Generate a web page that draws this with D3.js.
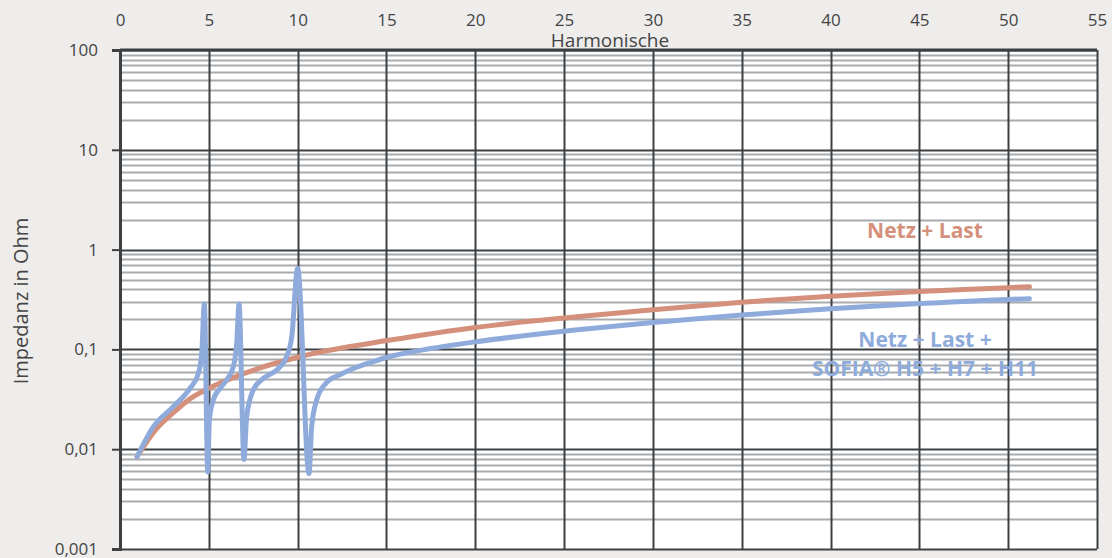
<!DOCTYPE html>
<html>
<head>
<meta charset="utf-8">
<script src="https://cdn.jsdelivr.net/npm/d3@7"></script>
<style>
  html, body { margin: 0; padding: 0; background: #eeedeb; }
  svg { display: block; font-family: "Open Sans", sans-serif; }
</style>
</head>
<body>
<svg id="chart"></svg>
<script>
// x ticks (harmonic order)
const xTicks = [0, 5, 10, 15, 20, 25, 30, 35, 40, 45, 50, 55];
// y ticks (impedance, decades) and their German labels
const yTicks = [0.001, 0.01, 0.1, 1, 10, 100];
const yTickLabels = ['0,001', '0,01', '0,1', '1', '10', '100'];

// Netz + Last
const netzH = [0.96, 2, 3, 4, 5, 7, 10, 11.2, 15.2, 20, 25.9, 30, 35, 40, 45, 50, 51.2];
const netzZ = [0.0084, 0.0156, 0.0232, 0.0325, 0.0407, 0.0575, 0.0834, 0.0935, 0.124, 0.166, 0.214, 0.250, 0.297, 0.341, 0.380, 0.415, 0.425];

// Netz + Last + SOFIA H5 + H7 + H11
const sofiaH = [0.96, 1.88, 3.0, 3.94, 4.41, 4.6, 4.75, 4.94, 5.03, 5.25, 5.63, 6.0, 6.38, 6.57, 6.7, 6.98,
  7.13, 7.5, 8.07, 8.82, 9.38, 9.67, 10.0, 10.64, 10.79, 11.07, 11.6, 12.4, 13.1, 14, 15, 17.5, 20, 25.9, 30, 35, 40, 45, 50, 51.2];
const sofiaZ = [0.0084, 0.0168, 0.0267, 0.0407, 0.0575, 0.0914, 0.285, 0.0059, 0.0196, 0.0311, 0.0407, 0.0493, 0.0671, 0.115, 0.285, 0.0079,
  0.0212, 0.0392, 0.0513, 0.0622, 0.0845, 0.134, 0.65, 0.0057, 0.0168, 0.0311, 0.046, 0.056, 0.064, 0.073, 0.083, 0.102, 0.119, 0.158, 0.186, 0.221, 0.256, 0.288, 0.317, 0.322];

const labels = ['Netz + Last', 'Netz + Last +', 'SOFIA® H5 + H7 + H11'];

const width = 1112, height = 558;
const m = { top: 50, right: 15, bottom: 9, left: 120 };

const svg = d3.select('#chart').attr('width', width).attr('height', height);

const x = d3.scaleLinear().domain([0, 55]).range([m.left, width - m.right]);
const y = d3.scaleLog().domain([0.001, 100]).range([height - m.bottom, m.top]);

svg.append('rect')
  .attr('x', x(0)).attr('y', y(100))
  .attr('width', x(55) - x(0)).attr('height', y(0.001) - y(100))
  .attr('fill', '#fff');

// minor horizontal grid
const minor = [];
yTicks.slice(0, -1).forEach(d => { for (let k = 2; k <= 9; k++) minor.push(d * k); });
svg.append('g').selectAll('line').data(minor).enter().append('line')
  .attr('x1', x(0)).attr('x2', x(55))
  .attr('y1', d => Math.round(y(d)) + 0.5).attr('y2', d => Math.round(y(d)) + 0.5)
  .attr('stroke', '#a7abae').attr('stroke-width', 2);

// major grid
svg.append('g').selectAll('line').data(yTicks).enter().append('line')
  .attr('x1', x(0)).attr('x2', x(55))
  .attr('y1', d => Math.round(y(d)) + 0.5).attr('y2', d => Math.round(y(d)) + 0.5)
  .attr('stroke', '#3d4042').attr('stroke-width', 2);
svg.append('g').selectAll('line').data(xTicks).enter().append('line')
  .attr('x1', d => Math.round(x(d)) + 0.5).attr('x2', d => Math.round(x(d)) + 0.5)
  .attr('y1', y(100)).attr('y2', y(0.001))
  .attr('stroke', '#3d4042').attr('stroke-width', 2);

// axes
const xAxis = svg.append('g')
  .attr('transform', `translate(0,26)`)
  .call(d3.axisTop(x).tickValues(xTicks).tickSize(0).tickPadding(0));
xAxis.select('.domain').remove();
xAxis.selectAll('text').attr('font-size', 17).attr('fill', '#444').attr('font-family', '"Open Sans", sans-serif');

const yAxis = svg.append('g')
  .attr('transform', `translate(${m.left},0)`)
  .call(d3.axisLeft(y).tickValues(yTicks).tickSize(8).tickPadding(14)
    .tickFormat((d, i) => yTickLabels[i]));
yAxis.select('.domain').attr('stroke', '#3d4042').attr('stroke-width', 3);
yAxis.selectAll('.tick line').attr('stroke', '#3d4042').attr('stroke-width', 2);
yAxis.selectAll('text').attr('font-size', 17).attr('fill', '#444').attr('font-family', '"Open Sans", sans-serif');

svg.append('line')
  .attr('x1', x(0)).attr('x2', x(55)).attr('y1', y(100)).attr('y2', y(100))
  .attr('stroke', '#3d4042').attr('stroke-width', 3);

svg.append('text')
  .attr('x', 610).attr('y', 47)
  .attr('text-anchor', 'middle').attr('font-size', 19).attr('fill', '#444')
  .text('Harmonische');

svg.append('text')
  .attr('transform', 'translate(28,301) rotate(-90)')
  .attr('text-anchor', 'middle').attr('font-size', 20).attr('fill', '#444')
  .text('Impedanz in Ohm');

// curves
const line = d3.line().curve(d3.curveMonotoneX)
  .x(d => x(d[0])).y(d => y(d[1]));

svg.append('path')
  .datum(d3.zip(netzH, netzZ))
  .attr('d', line)
  .attr('fill', 'none').attr('stroke', '#d4907b').attr('stroke-width', 5)
  .attr('stroke-linecap', 'round').attr('stroke-linejoin', 'round');

svg.append('path')
  .datum(d3.zip(sofiaH, sofiaZ))
  .attr('d', line)
  .attr('fill', 'none').attr('stroke', '#8eabdb').attr('stroke-width', 5)
  .attr('stroke-linecap', 'round').attr('stroke-linejoin', 'round');

// labels
svg.append('text')
  .attr('x', 925).attr('y', 238)
  .attr('text-anchor', 'middle').attr('font-size', 21).attr('font-weight', 'bold')
  .attr('fill', '#d4907b')
  .text(labels[0]);

svg.append('text')
  .attr('x', 925).attr('y', 347)
  .attr('text-anchor', 'middle').attr('font-size', 21).attr('font-weight', 'bold')
  .attr('fill', '#8eabdb')
  .text(labels[1]);

svg.append('text')
  .attr('x', 925).attr('y', 376)
  .attr('text-anchor', 'middle').attr('font-size', 21).attr('font-weight', 'bold')
  .attr('fill', '#8eabdb')
  .text(labels[2]);
</script>
</body>
</html>
